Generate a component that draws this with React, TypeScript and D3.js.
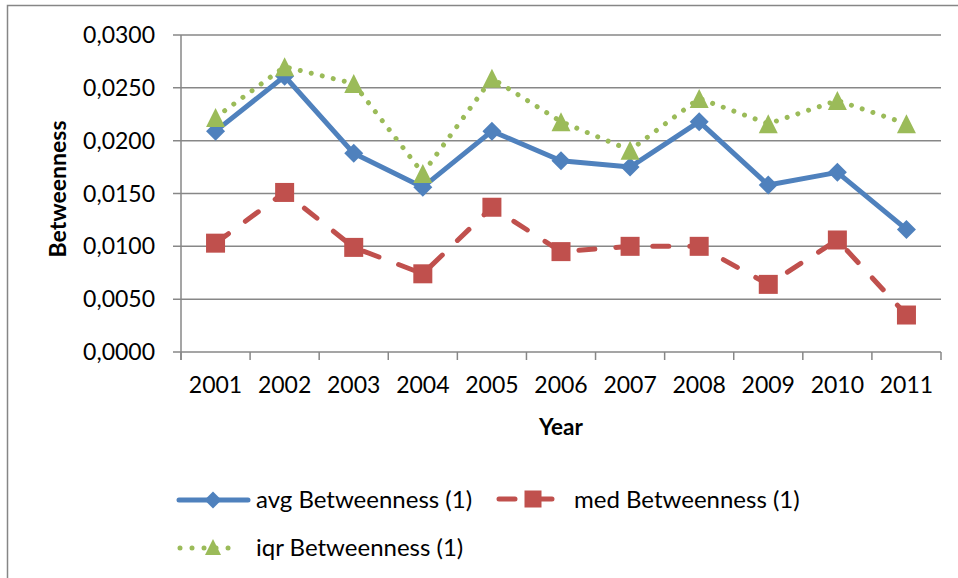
import React from "react";
import * as d3 from "d3";

const years = ["2001", "2002", "2003", "2004", "2005", "2006", "2007", "2008", "2009", "2010", "2011"];
const avgValues = [0.0209, 0.0261, 0.0188, 0.0156, 0.0209, 0.0181, 0.0175, 0.0218, 0.0158, 0.0170, 0.0116];
const medValues = [0.0103, 0.0151, 0.0099, 0.0074, 0.0137, 0.0095, 0.0100, 0.0100, 0.0064, 0.0106, 0.0035];
const iqrValues = [0.0222, 0.0270, 0.0254, 0.0169, 0.0259, 0.0218, 0.0191, 0.0240, 0.0216, 0.0238, 0.0216];
const yTicks = [0, 0.005, 0.01, 0.015, 0.02, 0.025, 0.03];
const seriesNames = ["avg Betweenness (1)", "med Betweenness (1)", "iqr Betweenness (1)"];

const W = 958;
const H = 578;
const FONT = "Lato, 'Open Sans', sans-serif";
const GRID = "#878787";
const BLUE = "#4F81BD";
const RED = "#C0504D";
const GREEN = "#9BBB59";

const locale = d3.formatLocale({ decimal: ",", thousands: ".", grouping: [3], currency: ["", "€"] });
const fmt = locale.format(".4f");

function Diamond({ x, y, r, color }: { x: number; y: number; r: number; color: string }) {
  return <path d={`M${x},${y - r}L${x + r},${y}L${x},${y + r}L${x - r},${y}Z`} fill={color} />;
}
function Square({ x, y, s, color }: { x: number; y: number; s: number; color: string }) {
  return <rect x={x - s / 2} y={y - s / 2} width={s} height={s} fill={color} />;
}
function Triangle({ x, y, s, color }: { x: number; y: number; s: number; color: string }) {
  const h = s;
  return <path d={`M${x},${y - h / 2}L${x + s / 2},${y + h / 2}L${x - s / 2},${y + h / 2}Z`} fill={color} />;
}

export default function App() {
  const x = d3.scaleBand<string>().domain(years).range([181, 941]).padding(0);
  const y = d3.scaleLinear().domain([0, 0.03]).range([352, 35]);
  const cx = (d: string) => (x(d) as number) + x.bandwidth() / 2;
  const line = d3
    .line<number>()
    .x((_, i) => cx(years[i]))
    .y((v) => y(v));

  const boundaries = years.map((d) => x(d) as number).concat([941]);

  return (
    <svg width={W} height={H} style={{ position: "absolute", left: 0, top: 0, background: "#fff" }} fontFamily={FONT}>
      <rect x={0} y={0} width={W} height={H} fill="#fff" />
      <rect x={7.5} y={5.5} width={960} height={620} fill="none" stroke="#868686" strokeWidth={1.5} />

      {/* gridlines */}
      {yTicks.map((t) => (
        <line key={t} x1={173} x2={941} y1={y(t)} y2={y(t)} stroke={GRID} strokeWidth={1.5} />
      ))}
      {/* y axis line */}
      <line x1={181} x2={181} y1={y(0.03)} y2={360} stroke={GRID} strokeWidth={1.5} />
      {/* x ticks */}
      {boundaries.map((b, i) => (
        <line key={i} x1={b} x2={b} y1={352} y2={360} stroke={GRID} strokeWidth={1.5} />
      ))}

      {/* y labels */}
      {yTicks.map((t) => (
        <text key={t} x={155} y={y(t)} dy="0.35em" textAnchor="end" fontSize={23} fill="#000">
          {fmt(t)}
        </text>
      ))}
      {/* x labels */}
      {years.map((d) => (
        <text key={d} x={cx(d)} y={393} textAnchor="middle" fontSize={23} fill="#000">
          {d}
        </text>
      ))}

      <text x={561} y={435} textAnchor="middle" fontSize={22.5} fontWeight="bold" fill="#000">
        Year
      </text>
      <text transform={`translate(66,189) rotate(-90)`} textAnchor="middle" fontSize={23} fontWeight="bold" fill="#000">
        Betweenness
      </text>

      {/* series */}
      <path d={line(iqrValues) || ""} fill="none" stroke={GREEN} strokeWidth={5} strokeDasharray="0.01 11.3" strokeLinecap="round" />
      <path d={line(avgValues) || ""} fill="none" stroke={BLUE} strokeWidth={5} strokeLinejoin="round" />
      <path d={line(medValues) || ""} fill="none" stroke={RED} strokeWidth={5} strokeDasharray="16 21" strokeLinecap="round" strokeLinejoin="round" />

      {avgValues.map((v, i) => (
        <Diamond key={"a" + i} x={cx(years[i])} y={y(v)} r={9.5} color={BLUE} />
      ))}
      {medValues.map((v, i) => (
        <Square key={"m" + i} x={cx(years[i])} y={y(v)} s={19} color={RED} />
      ))}
      {iqrValues.map((v, i) => (
        <Triangle key={"q" + i} x={cx(years[i])} y={y(v)} s={19} color={GREEN} />
      ))}

      {/* legend */}
      <g>
        <line x1={179} x2={248} y1={500} y2={500} stroke={BLUE} strokeWidth={5} strokeLinecap="round" />
        <Diamond x={213} y={500} r={8.5} color={BLUE} />
        <text x={256} y={508} fontSize={24} fill="#000">{seriesNames[0]}</text>

        <line x1={499} x2={557} y1={499} y2={499} stroke={RED} strokeWidth={5} strokeDasharray="16 21" strokeLinecap="round" />
        <Square x={533} y={499} s={17} color={RED} />
        <text x={574} y={508} fontSize={24} fill="#000">{seriesNames[1]}</text>

        <line x1={180} x2={240} y1={548} y2={548} stroke={GREEN} strokeWidth={5} strokeDasharray="0.01 12" strokeLinecap="round" />
        <Triangle x={213} y={547} s={16} color={GREEN} />
        <text x={256} y={556} fontSize={24} fill="#000">{seriesNames[2]}</text>
      </g>
    </svg>
  );
}
